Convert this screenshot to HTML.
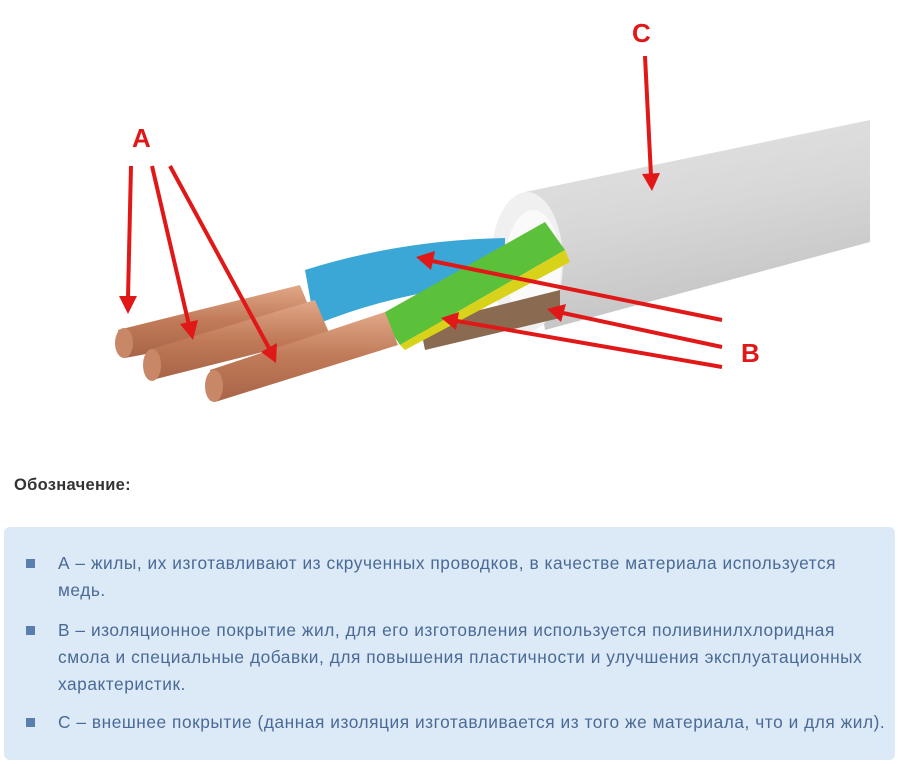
<!DOCTYPE html>
<html><head><meta charset="utf-8"><style>
body{margin:0;width:898px;height:764px;background:#fff;font-family:"Liberation Sans",Arial,sans-serif;position:relative;overflow:hidden}
svg{position:absolute;left:0;top:0}
h4{position:absolute;left:14px;top:476px;margin:0;font-size:16.5px;font-weight:bold;color:#333;letter-spacing:0.3px}
.box{position:absolute;left:4px;top:527px;width:891px;height:233px;background:#dce9f6;border-radius:6px}
ul{list-style:none;margin:0;padding:0;position:absolute;left:0;top:23px;width:891px}
li{position:relative;padding-left:54px;font-size:17.3px;letter-spacing:0.55px;line-height:27px;color:#4a6a96;margin-bottom:13px;white-space:nowrap}
li:last-child{margin-top:-2px}
li:before{content:"";position:absolute;left:22px;top:9px;width:9px;height:9px;background:#5a7fae}
</style></head><body>
<svg width="898" height="440" viewBox="0 0 898 440">
<defs>
<linearGradient id="jk" x1="0" y1="0" x2="0.3" y2="1"><stop offset="0" stop-color="#e4e4e4"/><stop offset="0.5" stop-color="#d8d8d8"/><stop offset="1" stop-color="#c4c4c4"/></linearGradient>
<linearGradient id="cu" x1="0" y1="0" x2="0" y2="1"><stop offset="0" stop-color="#e0a888"/><stop offset="0.5" stop-color="#c07a58"/><stop offset="1" stop-color="#a86448"/></linearGradient>
</defs>
<path d="M525 192 L870 120 L870 242 L545 330 Z" fill="url(#jk)"/>
<ellipse cx="527" cy="262" rx="36" ry="70" fill="#f0f0f0"/>
<ellipse cx="533" cy="266" rx="28" ry="56" fill="#fafafa"/>
<path d="M560 290 L420 325 L425 350 L560 318 Z" fill="#8a6a50"/>
<path d="M505 238 Q400 240 305 270 L315 325 Q400 290 505 282 Z" fill="#3aa7d6"/>
<path d="M545 222 L565 250 L400 345 L380 315 Z" fill="#5cc13a"/>
<path d="M565 250 L570 262 L405 350 L400 345 Z" fill="#d9d21a"/>
<path d="M118 330 L300 285 L315 322 L125 358 Z" fill="url(#cu)"/>
<path d="M148 350 L315 300 L330 335 L152 380 Z" fill="url(#cu)"/>
<path d="M210 370 L385 312 L398 345 L215 402 Z" fill="url(#cu)"/>
<ellipse cx="124" cy="343" rx="9" ry="15" fill="#c88868"/>
<ellipse cx="152" cy="365" rx="9" ry="16" fill="#c88868"/>
<ellipse cx="214" cy="386" rx="9" ry="16" fill="#c88868"/>
<g stroke="#e01818" stroke-width="4" fill="none">
<line x1="131" y1="166" x2="128" y2="298"/>
<line x1="152" y1="166" x2="189" y2="325"/>
<line x1="170" y1="166" x2="269" y2="348"/>
<line x1="645" y1="56" x2="651" y2="176"/>
<line x1="722" y1="320" x2="432" y2="261"/>
<line x1="722" y1="347" x2="563" y2="313"/>
<line x1="722" y1="367" x2="457" y2="321"/>
</g>
<g fill="#e01818">
<polygon points="119,296 137,296 128,314"/>
<polygon points="180,324 198,320 193,340"/>
<polygon points="261,352 277,343 276,363"/>
<polygon points="642,174 660,173 652,191"/>
<polygon points="416,257 435,251 431,270"/>
<polygon points="547,309 566,304 561,322"/>
<polygon points="441,318 459,312 456,330"/>
</g>
<g fill="#e01818" font-family="Liberation Sans,Arial,sans-serif" font-weight="bold" font-size="26">
<text x="132" y="147">A</text><text x="632" y="42">C</text><text x="741" y="362">B</text>
</g>
</svg>
<h4>Обозначение:</h4>
<div class="box"><ul>
<li>А – жилы, их изготавливают из скрученных проводков, в качестве материала используется<br>медь.</li>
<li>В – изоляционное покрытие жил, для его изготовления используется поливинилхлоридная<br>смола и специальные добавки, для повышения пластичности и улучшения эксплуатационных<br>характеристик.</li>
<li>С – внешнее покрытие (данная изоляция изготавливается из того же материала, что и для жил).</li>
</ul></div>
</body></html>
